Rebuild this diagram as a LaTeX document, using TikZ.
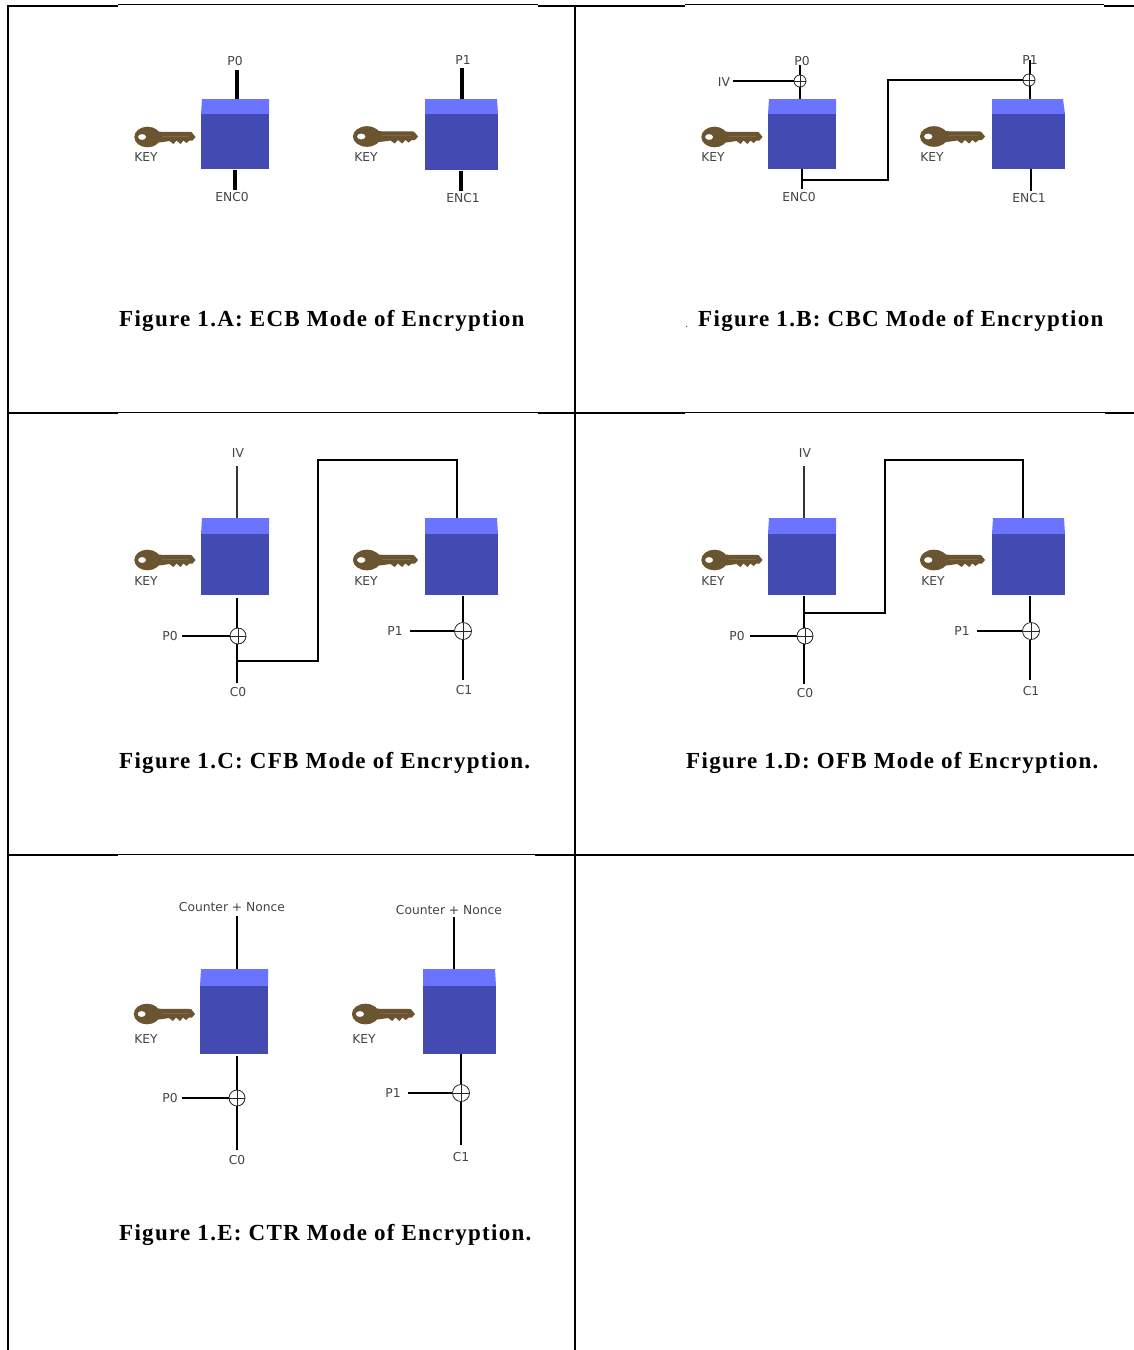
\documentclass[tikz,border=0pt]{standalone}
\usepackage{fontspec}
\setmainfont{DejaVu Sans}
\newfontfamily\capfont[LetterSpace=5.65]{Liberation Serif}
\usetikzlibrary{fit}
\definecolor{boxtop}{HTML}{6B74FF}
\definecolor{boxfront}{HTML}{434BB3}
\definecolor{keycol}{HTML}{6B5430}
\definecolor{labcol}{HTML}{444444}
\tikzset{
  x=1pt,y=-1pt,
  lab/.style={font=\fontsize{12.3}{12.3}\selectfont,text=labcol,inner sep=0pt},
  wire/.style={line width=2.2pt,black},
  thick wire/.style={line width=3.8pt,black},
  thin wire/.style={line width=1.3pt,black!80},
  xorsign/.style={circle,draw=black!85,line width=.8pt,fill=white,inner sep=0pt,minimum size=#1,
    path picture={\draw[line width=.8pt,black!85] (path picture bounding box.north)--(path picture bounding box.south)
      (path picture bounding box.west)--(path picture bounding box.east);}},
  capt/.style={font=\capfont\bfseries\fontsize{23}{23}\selectfont,anchor=west,inner sep=0pt,text=black},
  grid/.style={line width=1pt,black},
  grid heavy/.style={line width=2pt,black},
  keypic/.pic={
    \fill[keycol,even odd rule] (0,0) ellipse [x radius=13.2,y radius=10.3]
       (-5.4,0) ellipse [x radius=4.1,y radius=3];
    \fill[keycol] (8,-7.5) .. controls (10,-5.5) .. (14,-5.2) -- (44,-5) -- (48,0) -- (45,3.5) -- (42,3.5)
       -- (39,6) -- (36,3.5) -- (33,7) -- (29,3.5) -- (26,7) -- (22,4) -- (14,5.2) .. controls (10,5.5) .. (8,7.5) -- cycle;
    \draw[keycol!88!white,line width=.5pt] (14,-1) -- (41,-1);
  },
  long key/.style={xscale=1.065}
}
% name, x top left, x top right, x front left, x front right, y top, y mid, y bottom
\newcommand{\cipher}[8]{%
  \fill[boxtop] (#2,#6) -- (#3,#6) -- (#5,#7) -- (#4,#7) -- cycle;
  \fill[boxfront] (#4,#7) rectangle (#5,#8);
  \node[fit={(#4,#6)(#5,#8)},inner sep=0pt] (#1) {};
}
\begin{document}
\begin{tikzpicture}
\useasboundingbox (0,0) rectangle (1134,1350);
\fill[white] (0,0) rectangle (1134,1350);
% table
\coordinate (tl) at (8,5); \coordinate (tm) at (575,5);
\coordinate (bl) at (8,1350); \coordinate (bm) at (575,1350);
\draw[grid heavy] (tl) -- (bl);
\draw[grid heavy] (tm) -- (bm);
\draw[grid] (118,4.5) -- (538,4.5) (685,4.5) -- (1104,4.5);
\draw[grid heavy] (7,5.5) -- (118,5.5) (538,5.5) -- (685,5.5) (1104,5.5) -- (1134,5.5);
\draw[grid] (118,412.5) -- (538,412.5) (685,412.5) -- (1105,412.5);
\draw[grid heavy] (7,413) -- (118,413) (538,413) -- (685,413) (1105,413) -- (1134,413);
\draw[grid] (118,854.5) -- (535,854.5);
\draw[grid heavy] (7,855) -- (118,855) (535,855) -- (1134,855);

% ---------- A
\cipher{a1}{202}{269}{201}{269}{99}{114}{169}
\cipher{a2}{425}{497}{425}{498}{99}{114}{170}
\pic at (147.5,137) {keypic};
\pic[long key] at (367,136.5) {keypic};
\node[lab] at (146,157) {KEY};
\node[lab] at (366,157) {KEY};
\node[lab] (ap0) at (235,61) {P0};
\node[lab] (ap1) at (463,60) {P1};
\node[lab] (ae0) at (232,197) {ENC0};
\node[lab] (ae1) at (463,198) {ENC1};
\coordinate (ai0) at (237,70); \coordinate (ai1) at (462,68);
\coordinate (ao0) at (235,190); \coordinate (ao1) at (461,191);
\draw[thick wire] (ai0) -- (ai0 |- a1.north);
\draw[thick wire] (ai1) -- (ai1 |- a2.north);
\draw[thick wire] (ao0 |- a1.south) ++(0,1) -- (ao0);
\draw[thick wire] (ao1 |- a2.south) ++(0,1) -- (ao1);
\node[capt] at (119,321) {Figure 1.A: ECB Mode of Encryption};

% ---------- B
\cipher{b1}{769}{836}{768}{836}{99}{114}{169}
\cipher{b2}{992}{1063}{992}{1065}{99}{114}{169}
\pic at (714.5,137) {keypic};
\pic[long key] at (934,136.5) {keypic};
\node[lab] at (713,157) {KEY};
\node[lab] at (932,157) {KEY};
\node[lab] (biv) at (724,82) {IV};
\node[lab] (bp0) at (802,61) {P0};
\node[lab] (bp1) at (1030,60) {P1};
\node[lab] (be0) at (799,197) {ENC0};
\node[lab] (be1) at (1029,198) {ENC1};
\coordinate (bi0) at (800,65); \coordinate (bi1) at (1030,60);
\coordinate (bo0) at (802,189); \coordinate (bo1) at (1031,191);
\coordinate (bj0) at (802,180); \coordinate (bj1) at (888,180); \coordinate (bj2) at (888,80);
\node[xorsign=12pt] (bx0) at (800,81) {};
\node[xorsign=12pt] (bx1) at (1029,80) {};
\draw[wire] (bi0) -- (bx0.north);
\draw[wire] (bx0) -- (bx0 |- b1.north);
\draw[wire] (biv) ++(9,-1) -- (bx0.west);
\draw[wire,line width=1.6pt] (bi1) -- (bx1.north -| bi1);
\draw[wire] (bx1.south -| bi1) -- (bi1 |- b2.north);
\draw[wire] (bo0 |- b1.south) -- (bo0);
\draw[wire] (bo1 |- b2.south) -- (bo1);
\draw[wire] (bj0) -- (bj1) -- (bj2) -- (bx1.west);
\node[font=\fontsize{10}{10}\selectfont,text=labcol,anchor=base west,inner sep=0pt] (bdot) at (685,327) {.};
\node[capt] at (698,321) {Figure 1.B: CBC Mode of Encryption};

% ---------- C
\cipher{c1}{202}{269}{201}{269}{518}{534}{595}
\cipher{c2}{425}{497}{425}{498}{518}{534}{595}
\pic at (147.5,560) {keypic};
\pic[long key] at (367,560) {keypic};
\node[lab] at (146,581) {KEY};
\node[lab] at (366,581) {KEY};
\node[lab] (civ) at (238,453) {IV};
\node[lab] (cp0) at (170,636) {P0};
\node[lab] (cp1) at (395,631) {P1};
\node[lab] (cc0) at (238,692) {C0};
\node[lab] (cc1) at (464,690) {C1};
\node[xorsign=16pt] (cx0) at (238,636) {};
\node[xorsign=17pt] (cx1) at (463,631) {};
\coordinate (ci) at (237,466); \coordinate (co0) at (237,683); \coordinate (co1) at (463,680);
\coordinate (cs0) at (237,598); \coordinate (cs1) at (463,596);
\coordinate (cj0) at (237,661); \coordinate (cj1) at (318,661); \coordinate (cj2) at (318,460); \coordinate (cj3) at (457,460);
\draw[thin wire] (ci) -- (ci |- c1.north);
\draw[wire] (cs0) -- (cs0 |- cx0.north);
\draw[wire] (cs0 |- cx0.south) -- (co0);
\draw[wire] (cs1) -- (cs1 |- cx1.north);
\draw[wire] (cs1 |- cx1.south) -- (co1);
\draw[wire] (cp0) ++(12,0) -- (cx0.west);
\draw[wire] (cp1) ++(15,0) -- (cx1.west);
\draw[wire] (cj0) -- (cj1) -- (cj2) -- (cj3) -- (cj3 |- c2.north);
\node[capt] at (119,763) {Figure 1.C: CFB Mode of Encryption.};

% ---------- D
\cipher{d1}{769}{836}{768}{836}{518}{534}{595}
\cipher{d2}{993}{1064}{992}{1065}{518}{534}{595}
\pic at (714.5,560) {keypic};
\pic[long key] at (934,560) {keypic};
\node[lab] at (713,581) {KEY};
\node[lab] at (933,581) {KEY};
\node[lab] (div) at (805,453) {IV};
\node[lab] (dp0) at (737,636) {P0};
\node[lab] (dp1) at (962,631) {P1};
\node[lab] (dc0) at (805,693) {C0};
\node[lab] (dc1) at (1031,691) {C1};
\node[xorsign=16pt] (dx0) at (805,636) {};
\node[xorsign=17pt] (dx1) at (1031,631) {};
\coordinate (di) at (804,466); \coordinate (do0) at (804,684); \coordinate (do1) at (1030,680);
\coordinate (ds0) at (804,596); \coordinate (ds1) at (1030,596);
\coordinate (dj0) at (804,613); \coordinate (dj1) at (885,613); \coordinate (dj2) at (885,460); \coordinate (dj3) at (1023,460);
\draw[thin wire] (di) -- (di |- d1.north);
\draw[wire] (ds0) -- (ds0 |- dx0.north);
\draw[wire] (ds0 |- dx0.south) -- (do0);
\draw[wire] (ds1) -- (ds1 |- dx1.north);
\draw[wire] (ds1 |- dx1.south) -- (do1);
\draw[wire] (dp0) ++(13,0) -- (dx0.west);
\draw[wire] (dp1) ++(15,0) -- (dx1.west);
\draw[wire] (dj0) -- (dj1) -- (dj2) -- (dj3) -- (dj3 |- d2.north);
\node[capt] at (686,763) {Figure 1.D: OFB Mode of Encryption.};

% ---------- E
\cipher{e1}{201}{268}{200}{268}{969}{986}{1054}
\cipher{e2}{423}{495}{423}{496}{969}{986}{1054}
\pic at (147,1014) {keypic};
\pic[xscale=1.03] at (365.5,1014) {keypic};
\node[lab] at (146,1039) {KEY};
\node[lab] at (364,1039) {KEY};
\node[lab] (en0) at (232,907) {Counter + Nonce};
\node[lab] (en1) at (449,910) {Counter + Nonce};
\node[lab] (ep0) at (170,1098) {P0};
\node[lab] (ep1) at (393,1093) {P1};
\node[lab] (ec0) at (237,1160) {C0};
\node[lab] (ec1) at (461,1157) {C1};
\node[xorsign=16pt] (ex0) at (237,1098) {};
\node[xorsign=17pt] (ex1) at (461,1093) {};
\coordinate (ei0) at (237,916); \coordinate (ei1) at (454,917);
\coordinate (eo0) at (237,1150); \coordinate (eo1) at (461,1145);
\coordinate (es0) at (237,1056); \coordinate (es1) at (461,1054);
\draw[wire] (ei0) -- (ei0 |- e1.north);
\draw[wire] (ei1) -- (ei1 |- e2.north);
\draw[wire] (es0) -- (ex0.north);
\draw[wire] (ex0.south) -- (eo0);
\draw[wire] (es1) -- (ex1.north);
\draw[wire] (ex1.south) -- (eo1);
\draw[wire] (ep0) ++(12,0) -- (ex0.west);
\draw[wire] (ep1) ++(15,0) -- (ex1.west);
\node[capt] at (119,1235) {Figure 1.E: CTR Mode of Encryption.};
\end{tikzpicture}
\end{document}
